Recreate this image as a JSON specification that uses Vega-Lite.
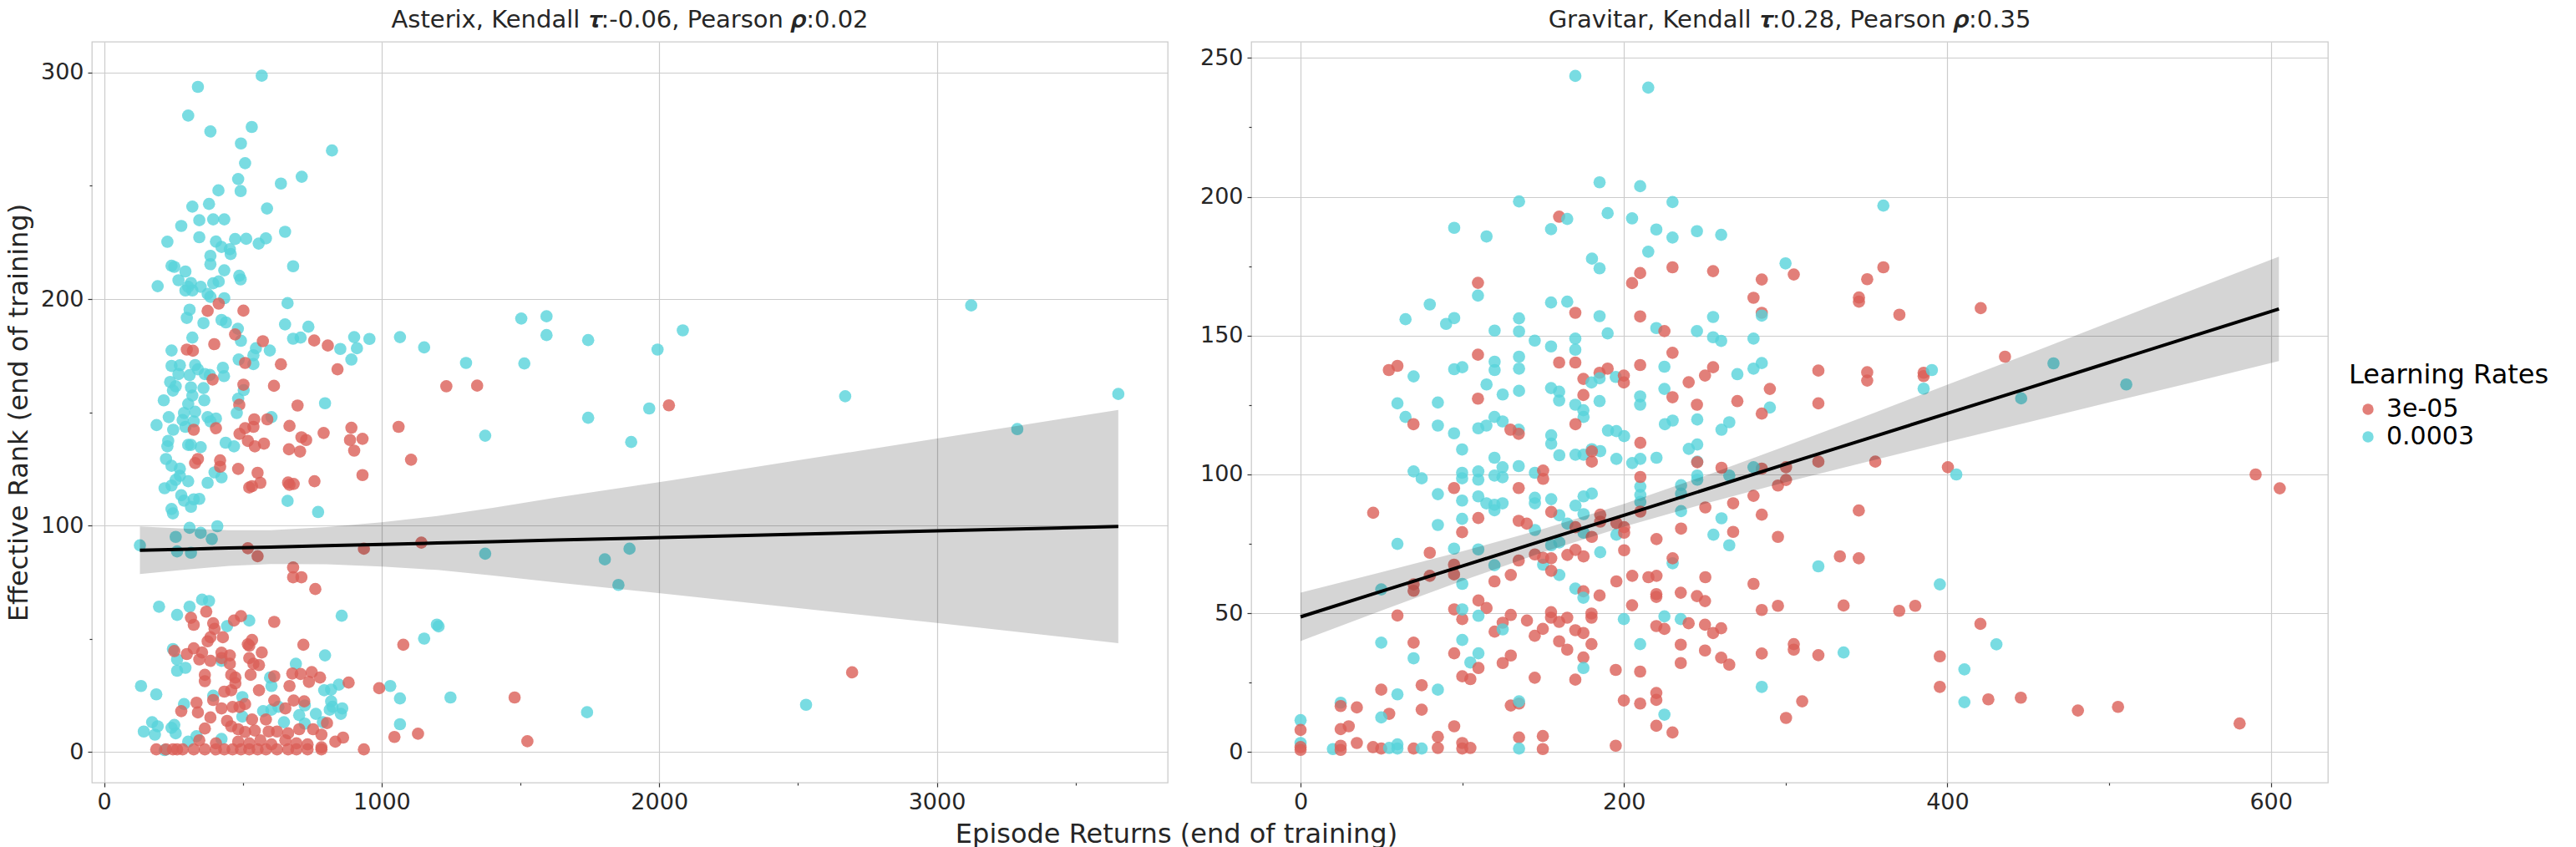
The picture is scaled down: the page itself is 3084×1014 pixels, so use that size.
{
  "$schema": "https://vega.github.io/schema/vega-lite/v6.json",
  "background": "white",
  "padding": {"left": 5, "top": 9, "right": 0, "bottom": 0},
  "bounds": "flush",
  "spacing": 100,
  "config": {
    "font": "DejaVu Sans",
    "view": {"stroke": "#cccccc", "strokeWidth": 1.3},
    "axis": {
      "labelFont": "DejaVu Sans", "labelFontSize": 27, "labelColor": "#262626",
      "labelPadding": 5, "labelOverlap": false, "labelFlush": false,
      "tickColor": "#333333", "tickWidth": 1.2,
      "gridColor": "#cccccc", "gridWidth": 1.2, "domain": false,
      "titleFont": "DejaVu Sans", "titleFontSize": 32, "titleFontWeight": "normal", "titleColor": "#262626"
    },
    "title": {"font": "DejaVu Sans", "fontSize": 29, "fontWeight": "normal", "color": "#262626", "offset": 11, "baseline": "alphabetic"},
    "legend": {
      "titleFont": "DejaVu Sans", "titleFontSize": 32, "titleFontWeight": "normal", "titleColor": "#000000", "titleLimit": 600,
      "labelFont": "DejaVu Sans", "labelFontSize": 30, "labelColor": "#000000", "labelLimit": 600,
      "symbolType": "circle", "symbolSize": 180, "symbolOpacity": 0.8, "symbolStrokeWidth": 0, "symbolOffset": 8,
      "labelOffset": 7, "rowPadding": 3, "titlePadding": 9, "padding": 0
    }
  },
  "datasets": {
    "asterix": [
      {"lr":"0.0003","ret":568,"rank":298.6},{"lr":"0.0003","ret":338,"rank":293.7},{"lr":"0.0003","ret":303,"rank":281},{"lr":"0.0003","ret":383,"rank":274},
      {"lr":"0.0003","ret":532,"rank":276},{"lr":"0.0003","ret":493,"rank":268.7},{"lr":"0.0003","ret":821,"rank":265.6},{"lr":"0.0003","ret":508,"rank":260},
      {"lr":"0.0003","ret":483,"rank":253},{"lr":"0.0003","ret":492,"rank":247.7},{"lr":"0.0003","ret":412,"rank":248},{"lr":"0.0003","ret":637,"rank":251},
      {"lr":"0.0003","ret":712,"rank":254},{"lr":"0.0003","ret":318,"rank":240.8},{"lr":"0.0003","ret":378,"rank":242},{"lr":"0.0003","ret":587,"rank":240},
      {"lr":"0.0003","ret":343,"rank":234.8},{"lr":"0.0003","ret":393,"rank":235.2},{"lr":"0.0003","ret":433,"rank":235.2},{"lr":"0.0003","ret":278,"rank":232.3},
      {"lr":"0.0003","ret":652,"rank":229.7},{"lr":"0.0003","ret":228,"rank":225.3},{"lr":"0.0003","ret":343,"rank":227.3},{"lr":"0.0003","ret":403,"rank":225.4},
      {"lr":"0.0003","ret":423,"rank":223},{"lr":"0.0003","ret":453,"rank":222},{"lr":"0.0003","ret":456,"rank":219.9},{"lr":"0.0003","ret":472,"rank":226.5},
      {"lr":"0.0003","ret":512,"rank":226.6},{"lr":"0.0003","ret":557,"rank":224.5},{"lr":"0.0003","ret":583,"rank":226.8},{"lr":"0.0003","ret":383,"rank":219.1},
      {"lr":"0.0003","ret":383,"rank":215.4},{"lr":"0.0003","ret":243,"rank":214.7},{"lr":"0.0003","ret":253,"rank":214.2},{"lr":"0.0003","ret":293,"rank":212.2},
      {"lr":"0.0003","ret":433,"rank":212.7},{"lr":"0.0003","ret":681,"rank":214.5},{"lr":"0.0003","ret":487,"rank":210.3},{"lr":"0.0003","ret":492,"rank":208.7},
      {"lr":"0.0003","ret":268,"rank":208.3},{"lr":"0.0003","ret":313,"rank":207.1},{"lr":"0.0003","ret":193,"rank":205.7},{"lr":"0.0003","ret":348,"rank":205.4},
      {"lr":"0.0003","ret":393,"rank":207},{"lr":"0.0003","ret":413,"rank":207.8},{"lr":"0.0003","ret":293,"rank":203.8},{"lr":"0.0003","ret":318,"rank":203.8},
      {"lr":"0.0003","ret":303,"rank":205.4},{"lr":"0.0003","ret":373,"rank":202.3},{"lr":"0.0003","ret":383,"rank":201},{"lr":"0.0003","ret":433,"rank":200.4},
      {"lr":"0.0003","ret":661,"rank":198.2},{"lr":"0.0003","ret":308,"rank":195.3},{"lr":"0.0003","ret":298,"rank":191.7},{"lr":"0.0003","ret":358,"rank":189.4},
      {"lr":"0.0003","ret":423,"rank":190.8},{"lr":"0.0003","ret":439,"rank":189.7},{"lr":"0.0003","ret":482,"rank":186.9},{"lr":"0.0003","ret":493,"rank":181.6},
      {"lr":"0.0003","ret":652,"rank":188.8},{"lr":"0.0003","ret":736,"rank":187.8},{"lr":"0.0003","ret":681,"rank":182.5},{"lr":"0.0003","ret":708,"rank":183},
      {"lr":"0.0003","ret":851,"rank":178},{"lr":"0.0003","ret":901,"rank":183.2},{"lr":"0.0003","ret":911,"rank":178.3},{"lr":"0.0003","ret":956,"rank":182.4},
      {"lr":"0.0003","ret":891,"rank":173.3},{"lr":"0.0003","ret":1066,"rank":183.2},{"lr":"0.0003","ret":1153,"rank":178.7},{"lr":"0.0003","ret":318,"rank":183},
      {"lr":"0.0003","ret":547,"rank":178.3},{"lr":"0.0003","ret":597,"rank":177.3},{"lr":"0.0003","ret":243,"rank":177.3},{"lr":"0.0003","ret":538,"rank":175.2},
      {"lr":"0.0003","ret":485,"rank":173.3},{"lr":"0.0003","ret":538,"rank":171.3},{"lr":"0.0003","ret":243,"rank":170.5},{"lr":"0.0003","ret":273,"rank":170.8},
      {"lr":"0.0003","ret":328,"rank":170.9},{"lr":"0.0003","ret":338,"rank":169},{"lr":"0.0003","ret":428,"rank":169.7},{"lr":"0.0003","ret":432,"rank":166},
      {"lr":"0.0003","ret":268,"rank":166.9},{"lr":"0.0003","ret":308,"rank":166.4},{"lr":"0.0003","ret":363,"rank":166.9},{"lr":"0.0003","ret":381,"rank":166.5},
      {"lr":"0.0003","ret":238,"rank":163.4},{"lr":"0.0003","ret":258,"rank":161.5},{"lr":"0.0003","ret":248,"rank":159.6},{"lr":"0.0003","ret":313,"rank":161},
      {"lr":"0.0003","ret":358,"rank":160.7},{"lr":"0.0003","ret":503,"rank":159.8},{"lr":"0.0003","ret":215,"rank":155.3},{"lr":"0.0003","ret":318,"rank":157.4},
      {"lr":"0.0003","ret":361,"rank":155.3},{"lr":"0.0003","ret":483,"rank":156},{"lr":"0.0003","ret":303,"rank":153.7},{"lr":"0.0003","ret":796,"rank":154},
      {"lr":"3e-05","ret":413,"rank":198},{"lr":"3e-05","ret":373,"rank":194.8},{"lr":"3e-05","ret":502,"rank":194.9},{"lr":"3e-05","ret":472,"rank":184.4},
      {"lr":"3e-05","ret":757,"rank":181.7},{"lr":"3e-05","ret":806,"rank":179.5},{"lr":"3e-05","ret":841,"rank":169},{"lr":"3e-05","ret":298,"rank":177.7},
      {"lr":"3e-05","ret":320,"rank":177.2},{"lr":"3e-05","ret":397,"rank":180.1},{"lr":"3e-05","ret":572,"rank":181.4},{"lr":"3e-05","ret":508,"rank":171.8},
      {"lr":"3e-05","ret":637,"rank":171.2},{"lr":"3e-05","ret":391,"rank":164.5},{"lr":"3e-05","ret":502,"rank":162.2},{"lr":"3e-05","ret":612,"rank":161.7},
      {"lr":"3e-05","ret":487,"rank":153.3},{"lr":"3e-05","ret":697,"rank":153},
      {"lr":"0.0003","ret":288,"rank":149.7},{"lr":"0.0003","ret":328,"rank":150.3},{"lr":"0.0003","ret":233,"rank":147.9},{"lr":"0.0003","ret":283,"rank":146.6},
      {"lr":"0.0003","ret":323,"rank":146},{"lr":"0.0003","ret":373,"rank":147.9},{"lr":"0.0003","ret":403,"rank":147.3},{"lr":"0.0003","ret":383,"rank":146},
      {"lr":"0.0003","ret":189,"rank":144.4},{"lr":"0.0003","ret":249,"rank":142.3},{"lr":"0.0003","ret":293,"rank":143.6},{"lr":"0.0003","ret":478,"rank":149.7},
      {"lr":"0.0003","ret":603,"rank":147.9},{"lr":"0.0003","ret":231,"rank":137.4},{"lr":"0.0003","ret":228,"rank":135},{"lr":"0.0003","ret":303,"rank":135.6},
      {"lr":"0.0003","ret":313,"rank":135.6},{"lr":"0.0003","ret":348,"rank":134.6},{"lr":"0.0003","ret":438,"rank":136.6},{"lr":"0.0003","ret":468,"rank":135},
      {"lr":"0.0003","ret":223,"rank":129.4},{"lr":"0.0003","ret":243,"rank":126.4},{"lr":"0.0003","ret":273,"rank":125.1},{"lr":"0.0003","ret":273,"rank":122},
      {"lr":"0.0003","ret":258,"rank":120.2},{"lr":"0.0003","ret":303,"rank":119.6},{"lr":"0.0003","ret":243,"rank":117.7},{"lr":"0.0003","ret":218,"rank":116.5},
      {"lr":"0.0003","ret":373,"rank":118.9},{"lr":"0.0003","ret":398,"rank":123.5},{"lr":"0.0003","ret":423,"rank":121.3},{"lr":"0.0003","ret":278,"rank":113.4},
      {"lr":"0.0003","ret":288,"rank":111},{"lr":"0.0003","ret":323,"rank":111.6},{"lr":"0.0003","ret":343,"rank":111.8},{"lr":"0.0003","ret":313,"rank":108.3},
      {"lr":"0.0003","ret":243,"rank":107.3},{"lr":"0.0003","ret":248,"rank":105.4},{"lr":"0.0003","ret":661,"rank":110.9},{"lr":"0.0003","ret":771,"rank":106},
      {"lr":"0.0003","ret":308,"rank":99},{"lr":"0.0003","ret":348,"rank":96.8},{"lr":"0.0003","ret":408,"rank":99.7},{"lr":"0.0003","ret":258,"rank":95},
      {"lr":"0.0003","ret":388,"rank":94.1},{"lr":"0.0003","ret":129,"rank":91.3},{"lr":"0.0003","ret":263,"rank":88.6},{"lr":"0.0003","ret":313,"rank":88},
      {"lr":"3e-05","ret":323,"rank":142.3},{"lr":"3e-05","ret":403,"rank":143},{"lr":"3e-05","ret":541,"rank":146.9},{"lr":"3e-05","ret":508,"rank":143},
      {"lr":"3e-05","ret":538,"rank":143.6},{"lr":"3e-05","ret":588,"rank":146.9},{"lr":"3e-05","ret":488,"rank":140.5},{"lr":"3e-05","ret":518,"rank":137.4},
      {"lr":"3e-05","ret":543,"rank":135},{"lr":"3e-05","ret":576,"rank":136.2},{"lr":"3e-05","ret":668,"rank":144},{"lr":"3e-05","ret":711,"rank":139},
      {"lr":"3e-05","ret":728,"rank":137.8},{"lr":"3e-05","ret":666,"rank":133.7},{"lr":"3e-05","ret":706,"rank":132.7},{"lr":"3e-05","ret":791,"rank":140.9},
      {"lr":"3e-05","ret":891,"rank":143.2},{"lr":"3e-05","ret":886,"rank":137.8},{"lr":"3e-05","ret":931,"rank":138.3},{"lr":"3e-05","ret":901,"rank":133.1},
      {"lr":"3e-05","ret":1061,"rank":143.6},{"lr":"3e-05","ret":1106,"rank":129.1},{"lr":"3e-05","ret":931,"rank":122.3},{"lr":"3e-05","ret":338,"rank":129.4},
      {"lr":"3e-05","ret":328,"rank":127.6},{"lr":"3e-05","ret":418,"rank":128.8},{"lr":"3e-05","ret":418,"rank":126},{"lr":"3e-05","ret":483,"rank":125},
      {"lr":"3e-05","ret":553,"rank":123.3},{"lr":"3e-05","ret":563,"rank":118.9},{"lr":"3e-05","ret":523,"rank":116.8},{"lr":"3e-05","ret":533,"rank":117.4},
      {"lr":"3e-05","ret":663,"rank":119},{"lr":"3e-05","ret":683,"rank":118.4},{"lr":"3e-05","ret":668,"rank":118},{"lr":"3e-05","ret":758,"rank":119.6},
      {"lr":"3e-05","ret":518,"rank":90},{"lr":"3e-05","ret":553,"rank":86.5},{"lr":"3e-05","ret":936,"rank":89.8},{"lr":"3e-05","ret":1143,"rank":92.5},
      {"lr":"3e-05","ret":681,"rank":81.5},{"lr":"3e-05","ret":681,"rank":77.2},{"lr":"3e-05","ret":711,"rank":77.2},{"lr":"3e-05","ret":761,"rank":72},
      {"lr":"0.0003","ret":198,"rank":64.2},{"lr":"0.0003","ret":263,"rank":60.6},{"lr":"0.0003","ret":308,"rank":64.2},{"lr":"0.0003","ret":353,"rank":67.3},
      {"lr":"0.0003","ret":378,"rank":66.7},{"lr":"0.0003","ret":443,"rank":55.6},{"lr":"0.0003","ret":523,"rank":58.1},{"lr":"0.0003","ret":856,"rank":60.2},
      {"lr":"0.0003","ret":1153,"rank":50.1},{"lr":"0.0003","ret":248,"rank":45.5},{"lr":"0.0003","ret":263,"rank":40.9},{"lr":"0.0003","ret":263,"rank":35.9},
      {"lr":"0.0003","ret":293,"rank":37.2},{"lr":"0.0003","ret":423,"rank":40.3},{"lr":"0.0003","ret":691,"rank":39},{"lr":"0.0003","ret":796,"rank":42.7},
      {"lr":"0.0003","ret":598,"rank":32.9},{"lr":"0.0003","ret":603,"rank":29.2},{"lr":"0.0003","ret":133,"rank":29.2},{"lr":"0.0003","ret":188,"rank":25.5},
      {"lr":"0.0003","ret":393,"rank":24.9},{"lr":"0.0003","ret":498,"rank":24.3},{"lr":"0.0003","ret":288,"rank":21.2},{"lr":"0.0003","ret":793,"rank":27.3},
      {"lr":"0.0003","ret":818,"rank":27.6},{"lr":"0.0003","ret":846,"rank":29.8},{"lr":"0.0003","ret":1031,"rank":29.2},{"lr":"0.0003","ret":1066,"rank":23.7},
      {"lr":"0.0003","ret":818,"rank":22.4},{"lr":"0.0003","ret":823,"rank":20},{"lr":"0.0003","ret":858,"rank":19.3},{"lr":"0.0003","ret":853,"rank":16.9},
      {"lr":"0.0003","ret":813,"rank":18.7},{"lr":"0.0003","ret":573,"rank":18.1},{"lr":"0.0003","ret":603,"rank":18.7},{"lr":"0.0003","ret":628,"rank":20},
      {"lr":"0.0003","ret":703,"rank":16.3},{"lr":"0.0003","ret":723,"rank":20.6},{"lr":"0.0003","ret":763,"rank":16.9},{"lr":"0.0003","ret":788,"rank":13.2},
      {"lr":"0.0003","ret":648,"rank":13.2},{"lr":"0.0003","ret":498,"rank":15.7},{"lr":"0.0003","ret":1066,"rank":12.3},{"lr":"0.0003","ret":173,"rank":13.2},
      {"lr":"0.0003","ret":193,"rank":11.4},{"lr":"0.0003","ret":143,"rank":9.1},{"lr":"0.0003","ret":183,"rank":7.7},{"lr":"0.0003","ret":243,"rank":10.7},
      {"lr":"0.0003","ret":258,"rank":8.3},{"lr":"0.0003","ret":253,"rank":12},{"lr":"0.0003","ret":303,"rank":4.6},{"lr":"0.0003","ret":333,"rank":7},
      {"lr":"0.0003","ret":218,"rank":0.9},{"lr":"0.0003","ret":423,"rank":5.8},{"lr":"0.0003","ret":723,"rank":12.6},
      {"lr":"3e-05","ret":368,"rank":62},{"lr":"3e-05","ret":313,"rank":59.3},{"lr":"3e-05","ret":323,"rank":56.2},{"lr":"3e-05","ret":393,"rank":56.9},
      {"lr":"3e-05","ret":398,"rank":54.4},{"lr":"3e-05","ret":468,"rank":58.1},{"lr":"3e-05","ret":493,"rank":60},{"lr":"3e-05","ret":613,"rank":57.5},
      {"lr":"3e-05","ret":383,"rank":50.7},{"lr":"3e-05","ret":428,"rank":50.7},{"lr":"3e-05","ret":373,"rank":48.9},{"lr":"3e-05","ret":518,"rank":47.6},
      {"lr":"3e-05","ret":533,"rank":49.5},{"lr":"3e-05","ret":523,"rank":47},{"lr":"3e-05","ret":718,"rank":47.4},{"lr":"3e-05","ret":253,"rank":44.6},
      {"lr":"3e-05","ret":298,"rank":43.3},{"lr":"3e-05","ret":323,"rank":45.8},{"lr":"3e-05","ret":353,"rank":44},{"lr":"3e-05","ret":343,"rank":40.9},
      {"lr":"3e-05","ret":383,"rank":40.3},{"lr":"3e-05","ret":423,"rank":43.9},{"lr":"3e-05","ret":453,"rank":42.7},{"lr":"3e-05","ret":423,"rank":41.5},
      {"lr":"3e-05","ret":453,"rank":39},{"lr":"3e-05","ret":568,"rank":44},{"lr":"3e-05","ret":523,"rank":41.5},{"lr":"3e-05","ret":538,"rank":39},
      {"lr":"3e-05","ret":558,"rank":38.4},{"lr":"3e-05","ret":363,"rank":34.1},{"lr":"3e-05","ret":363,"rank":31.3},{"lr":"3e-05","ret":458,"rank":34.1},
      {"lr":"3e-05","ret":473,"rank":32.9},{"lr":"3e-05","ret":473,"rank":30.4},{"lr":"3e-05","ret":528,"rank":34.1},{"lr":"3e-05","ret":613,"rank":33.5},
      {"lr":"3e-05","ret":678,"rank":34.7},{"lr":"3e-05","ret":708,"rank":34.5},{"lr":"3e-05","ret":748,"rank":35.3},{"lr":"3e-05","ret":738,"rank":31},
      {"lr":"3e-05","ret":778,"rank":32.9},{"lr":"3e-05","ret":668,"rank":29.2},{"lr":"3e-05","ret":558,"rank":27.3},{"lr":"3e-05","ret":433,"rank":26.7},
      {"lr":"3e-05","ret":458,"rank":27.3},{"lr":"3e-05","ret":881,"rank":30.7},{"lr":"3e-05","ret":991,"rank":28.2},{"lr":"3e-05","ret":333,"rank":21.8},
      {"lr":"3e-05","ret":338,"rank":17.5},{"lr":"3e-05","ret":278,"rank":18.1},{"lr":"3e-05","ret":383,"rank":15.3},{"lr":"3e-05","ret":393,"rank":23},
      {"lr":"3e-05","ret":423,"rank":19.3},{"lr":"3e-05","ret":463,"rank":19.9},{"lr":"3e-05","ret":488,"rank":19.9},{"lr":"3e-05","ret":508,"rank":21.2},
      {"lr":"3e-05","ret":533,"rank":14.4},{"lr":"3e-05","ret":613,"rank":22.8},{"lr":"3e-05","ret":653,"rank":19.3},{"lr":"3e-05","ret":683,"rank":22.8},
      {"lr":"3e-05","ret":721,"rank":22.4},{"lr":"3e-05","ret":363,"rank":10.4},{"lr":"3e-05","ret":443,"rank":13.8},{"lr":"3e-05","ret":458,"rank":11.4},
      {"lr":"3e-05","ret":483,"rank":10.1},{"lr":"3e-05","ret":508,"rank":8.9},{"lr":"3e-05","ret":543,"rank":9.5},{"lr":"3e-05","ret":583,"rank":14.4},
      {"lr":"3e-05","ret":593,"rank":9.1},{"lr":"3e-05","ret":623,"rank":9.1},{"lr":"3e-05","ret":663,"rank":8.3},{"lr":"3e-05","ret":703,"rank":10.1},
      {"lr":"3e-05","ret":753,"rank":10.1},{"lr":"3e-05","ret":803,"rank":12.8},{"lr":"3e-05","ret":783,"rank":7.7},{"lr":"3e-05","ret":1131,"rank":8.1},
      {"lr":"3e-05","ret":1046,"rank":6.7},{"lr":"3e-05","ret":861,"rank":6.4},{"lr":"3e-05","ret":833,"rank":4.6},{"lr":"3e-05","ret":343,"rank":5.2},
      {"lr":"3e-05","ret":403,"rank":3.9},{"lr":"3e-05","ret":483,"rank":4.6},{"lr":"3e-05","ret":523,"rank":3.9},{"lr":"3e-05","ret":563,"rank":5.2},
      {"lr":"3e-05","ret":603,"rank":3.4},{"lr":"3e-05","ret":653,"rank":5.2},{"lr":"3e-05","ret":693,"rank":3.9},{"lr":"3e-05","ret":733,"rank":3.4},
      {"lr":"3e-05","ret":783,"rank":2.1},{"lr":"3e-05","ret":936,"rank":1.2},
      {"lr":"3e-05","ret":188,"rank":1.2},{"lr":"3e-05","ret":223,"rank":1.2},{"lr":"3e-05","ret":248,"rank":1.2},{"lr":"3e-05","ret":263,"rank":1.2},
      {"lr":"3e-05","ret":283,"rank":1.2},{"lr":"3e-05","ret":323,"rank":1.2},{"lr":"3e-05","ret":363,"rank":1.2},{"lr":"3e-05","ret":403,"rank":1.2},
      {"lr":"3e-05","ret":433,"rank":1.2},{"lr":"3e-05","ret":463,"rank":1.2},{"lr":"3e-05","ret":493,"rank":1.2},{"lr":"3e-05","ret":523,"rank":1.2},
      {"lr":"3e-05","ret":553,"rank":1.2},{"lr":"3e-05","ret":583,"rank":1.2},{"lr":"3e-05","ret":623,"rank":1.2},{"lr":"3e-05","ret":663,"rank":1.2},
      {"lr":"3e-05","ret":693,"rank":1.2},{"lr":"3e-05","ret":733,"rank":1.2},{"lr":"3e-05","ret":783,"rank":1.2},{"lr":"3e-05","ret":1078,"rank":47.4},
      {"lr":"0.0003","ret":1503,"rank":191.4},{"lr":"0.0003","ret":1594,"rank":192.4},{"lr":"0.0003","ret":1594,"rank":184.1},{"lr":"0.0003","ret":1744,"rank":181.9},
      {"lr":"0.0003","ret":1994,"rank":177.7},{"lr":"0.0003","ret":1304,"rank":171.8},{"lr":"0.0003","ret":1514,"rank":171.6},{"lr":"0.0003","ret":1964,"rank":151.7},
      {"lr":"0.0003","ret":1744,"rank":147.6},{"lr":"0.0003","ret":2085,"rank":186.2},{"lr":"0.0003","ret":3124,"rank":197.2},{"lr":"0.0003","ret":2670,"rank":157.1},
      {"lr":"0.0003","ret":3654,"rank":158.1},{"lr":"0.0003","ret":3290,"rank":142.6},{"lr":"0.0003","ret":2529,"rank":20.9},{"lr":"0.0003","ret":1373,"rank":139.7},
      {"lr":"0.0003","ret":1899,"rank":136.9},{"lr":"0.0003","ret":1373,"rank":87.6},{"lr":"0.0003","ret":1804,"rank":85.1},{"lr":"0.0003","ret":1893,"rank":89.8},
      {"lr":"0.0003","ret":1853,"rank":73.8},{"lr":"0.0003","ret":1199,"rank":56.3},{"lr":"0.0003","ret":1205,"rank":55.5},{"lr":"0.0003","ret":1248,"rank":24.1},
      {"lr":"0.0003","ret":1740,"rank":17.6},
      {"lr":"3e-05","ret":1233,"rank":161.5},{"lr":"3e-05","ret":1344,"rank":161.8},{"lr":"3e-05","ret":2035,"rank":153.1},{"lr":"3e-05","ret":2695,"rank":35.2},
      {"lr":"3e-05","ret":1479,"rank":24.1},{"lr":"3e-05","ret":1525,"rank":4.8}
    ],
    "asterix_fit": [
      {"ret":129,"lo":78.6,"hi":99.6,"fit":89.1},{"ret":300,"lo":80.6,"hi":98.6,"fit":89.6},
      {"ret":450,"lo":82.2,"hi":98.0,"fit":90.1},{"ret":600,"lo":83.0,"hi":98.0,"fit":90.5},
      {"ret":800,"lo":82.9,"hi":99.3,"fit":91.1},{"ret":1000,"lo":81.9,"hi":101.5,"fit":91.7},
      {"ret":1200,"lo":80.4,"hi":104.2,"fit":92.3},{"ret":1400,"lo":78.0,"hi":107.8,"fit":92.9},
      {"ret":1627,"lo":74.9,"hi":112.3,"fit":93.6},{"ret":2039,"lo":69.7,"hi":119.9,"fit":94.8},
      {"ret":2500,"lo":63.6,"hi":128.8,"fit":96.2},{"ret":3000,"lo":57.0,"hi":138.4,"fit":97.7},
      {"ret":3654,"lo":48.1,"hi":151.1,"fit":99.6}
    ],
    "gravitar": [
      {"lr":"0.0003","ret":169.9,"rank":243.5},{"lr":"0.0003","ret":215,"rank":239.3},{"lr":"0.0003","ret":184.9,"rank":205.2},{"lr":"0.0003","ret":210,"rank":203.8},
      {"lr":"0.0003","ret":135.1,"rank":198.3},{"lr":"0.0003","ret":230,"rank":198.1},{"lr":"3e-05","ret":159.9,"rank":192.8},{"lr":"0.0003","ret":164.9,"rank":192},
      {"lr":"0.0003","ret":189.9,"rank":194.1},{"lr":"0.0003","ret":205,"rank":192.2},{"lr":"0.0003","ret":95,"rank":188.8},{"lr":"0.0003","ret":115,"rank":185.7},
      {"lr":"0.0003","ret":154.9,"rank":188.3},{"lr":"0.0003","ret":220,"rank":188.2},{"lr":"0.0003","ret":230,"rank":185.3},{"lr":"0.0003","ret":245.1,"rank":187.6},
      {"lr":"0.0003","ret":260.1,"rank":186.3},{"lr":"0.0003","ret":215,"rank":180.2},{"lr":"0.0003","ret":180.2,"rank":177.7},{"lr":"0.0003","ret":184.9,"rank":174.2},
      {"lr":"3e-05","ret":230,"rank":174.6},{"lr":"3e-05","ret":210,"rank":172.5},{"lr":"3e-05","ret":205,"rank":168.9},{"lr":"3e-05","ret":255.1,"rank":173.2},
      {"lr":"3e-05","ret":285.2,"rank":170.2},{"lr":"0.0003","ret":299.9,"rank":176},{"lr":"3e-05","ret":305,"rank":172},{"lr":"3e-05","ret":109.7,"rank":169},
      {"lr":"0.0003","ret":109.7,"rank":164.4},{"lr":"3e-05","ret":280.1,"rank":163.6},{"lr":"0.0003","ret":79.9,"rank":161.2},{"lr":"0.0003","ret":154.9,"rank":161.9},
      {"lr":"0.0003","ret":164.9,"rank":162.2},{"lr":"0.0003","ret":64.9,"rank":155.9},{"lr":"0.0003","ret":90,"rank":154.2},{"lr":"0.0003","ret":95,"rank":156.3},
      {"lr":"3e-05","ret":169.9,"rank":158.2},{"lr":"0.0003","ret":184.9,"rank":157},{"lr":"3e-05","ret":210,"rank":156.9},{"lr":"0.0003","ret":255.1,"rank":156.7},
      {"lr":"3e-05","ret":285.2,"rank":158.2},{"lr":"0.0003","ret":285.2,"rank":157.2},{"lr":"0.0003","ret":135.1,"rank":156.2},{"lr":"0.0003","ret":120,"rank":151.8},
      {"lr":"0.0003","ret":135.1,"rank":151.5},{"lr":"0.0003","ret":144.8,"rank":148.2},{"lr":"0.0003","ret":154.9,"rank":146.1},{"lr":"0.0003","ret":169.9,"rank":148.9},
      {"lr":"0.0003","ret":169.9,"rank":144.9},{"lr":"0.0003","ret":189.9,"rank":150.8},{"lr":"0.0003","ret":220,"rank":152.7},{"lr":"3e-05","ret":225,"rank":151.6},
      {"lr":"0.0003","ret":245.1,"rank":151.6},{"lr":"0.0003","ret":255.1,"rank":149.4},{"lr":"0.0003","ret":260.1,"rank":148.1},{"lr":"0.0003","ret":280.1,"rank":148.9},
      {"lr":"3e-05","ret":109.7,"rank":143.1},{"lr":"3e-05","ret":159.9,"rank":140.3},{"lr":"3e-05","ret":169.9,"rank":140.3},{"lr":"3e-05","ret":230,"rank":143.8},
      {"lr":"0.0003","ret":120,"rank":140.6},{"lr":"0.0003","ret":120,"rank":137.6},{"lr":"0.0003","ret":135.1,"rank":142.4},{"lr":"0.0003","ret":135.1,"rank":138.1},
      {"lr":"3e-05","ret":54.6,"rank":137.6},{"lr":"3e-05","ret":59.9,"rank":139.1},{"lr":"0.0003","ret":69.9,"rank":135.3},{"lr":"0.0003","ret":95,"rank":137.9},
      {"lr":"0.0003","ret":100,"rank":138.6},{"lr":"3e-05","ret":189.9,"rank":138.1},{"lr":"3e-05","ret":184.9,"rank":136.6},{"lr":"3e-05","ret":174.9,"rank":134.4},
      {"lr":"0.0003","ret":179.9,"rank":133.1},{"lr":"0.0003","ret":184.9,"rank":134.6},{"lr":"0.0003","ret":194.9,"rank":135.1},{"lr":"3e-05","ret":199.9,"rank":135.6},
      {"lr":"3e-05","ret":199.9,"rank":133.1},{"lr":"3e-05","ret":210,"rank":139.4},{"lr":"0.0003","ret":225,"rank":138.8},{"lr":"3e-05","ret":240,"rank":133.2},
      {"lr":"3e-05","ret":250.1,"rank":135.6},{"lr":"3e-05","ret":255.1,"rank":138.6},{"lr":"0.0003","ret":270.1,"rank":136.1},{"lr":"0.0003","ret":280.1,"rank":138.1},
      {"lr":"0.0003","ret":285.2,"rank":140.1},{"lr":"3e-05","ret":320.2,"rank":137.4},{"lr":"3e-05","ret":290.2,"rank":130.8},{"lr":"0.0003","ret":115,"rank":132.4},
      {"lr":"0.0003","ret":125,"rank":128.8},{"lr":"0.0003","ret":135.1,"rank":130.1},{"lr":"0.0003","ret":154.9,"rank":131.1},{"lr":"0.0003","ret":159.9,"rank":129.8},
      {"lr":"3e-05","ret":174.9,"rank":128.6},{"lr":"0.0003","ret":159.9,"rank":126.6},{"lr":"0.0003","ret":59.9,"rank":125.6},{"lr":"0.0003","ret":84.9,"rank":125.9},
      {"lr":"3e-05","ret":109.7,"rank":127.3},{"lr":"0.0003","ret":169.9,"rank":125.1},{"lr":"0.0003","ret":174.9,"rank":123.1},{"lr":"0.0003","ret":184.9,"rank":126.4},
      {"lr":"0.0003","ret":210,"rank":128.1},{"lr":"0.0003","ret":210,"rank":125.1},{"lr":"0.0003","ret":225,"rank":130.8},{"lr":"3e-05","ret":230,"rank":127.8},
      {"lr":"3e-05","ret":245.1,"rank":125.1},{"lr":"3e-05","ret":270.1,"rank":126.4},{"lr":"3e-05","ret":320.2,"rank":125.6},{"lr":"0.0003","ret":290.2,"rank":124.1},
      {"lr":"3e-05","ret":285.2,"rank":121.9},
      {"lr":"0.0003","ret":360.4,"rank":196.8},{"lr":"3e-05","ret":360.4,"rank":174.6},{"lr":"3e-05","ret":350.4,"rank":170.3},{"lr":"3e-05","ret":345.3,"rank":163.7},
      {"lr":"3e-05","ret":345.3,"rank":162.2},{"lr":"3e-05","ret":370.3,"rank":157.5},{"lr":"3e-05","ret":420.6,"rank":159.9},{"lr":"3e-05","ret":350.4,"rank":136.8},
      {"lr":"3e-05","ret":350.4,"rank":133.8},{"lr":"3e-05","ret":385.3,"rank":136.6},{"lr":"3e-05","ret":385.3,"rank":135.4},{"lr":"0.0003","ret":390.4,"rank":137.6},
      {"lr":"0.0003","ret":385.3,"rank":130.9},{"lr":"3e-05","ret":435.6,"rank":142.4},{"lr":"0.0003","ret":465.6,"rank":140},{"lr":"0.0003","ret":445.6,"rank":127.4},
      {"lr":"0.0003","ret":510.6,"rank":132.4},
      {"lr":"3e-05","ret":355.4,"rank":104.6},{"lr":"3e-05","ret":400.3,"rank":102.6},{"lr":"0.0003","ret":405.5,"rank":100},{"lr":"3e-05","ret":590.6,"rank":100},
      {"lr":"3e-05","ret":605.5,"rank":95},{"lr":"3e-05","ret":345.2,"rank":87},{"lr":"3e-05","ret":333.5,"rank":70.5},{"lr":"3e-05","ret":345.2,"rank":69.8},
      {"lr":"0.0003","ret":395.3,"rank":60.4},{"lr":"3e-05","ret":335.8,"rank":52.8},{"lr":"3e-05","ret":370.2,"rank":50.9},{"lr":"3e-05","ret":380.1,"rank":52.7},
      {"lr":"3e-05","ret":420.4,"rank":46.2},{"lr":"0.0003","ret":430.3,"rank":38.8},{"lr":"0.0003","ret":335.8,"rank":35.9},{"lr":"3e-05","ret":395.3,"rank":34.5},
      {"lr":"0.0003","ret":410.5,"rank":29.8},{"lr":"3e-05","ret":395.3,"rank":23.5},{"lr":"0.0003","ret":410.5,"rank":18},{"lr":"3e-05","ret":425.3,"rank":19},
      {"lr":"3e-05","ret":445.4,"rank":19.6},{"lr":"3e-05","ret":480.7,"rank":15},{"lr":"3e-05","ret":505.5,"rank":16.3},{"lr":"3e-05","ret":580.7,"rank":10.3},
      {"lr":"0.0003","ret":64.9,"rank":120.7},{"lr":"0.0003","ret":84.9,"rank":117.6},{"lr":"0.0003","ret":94.9,"rank":114.8},{"lr":"0.0003","ret":109.9,"rank":116.6},
      {"lr":"0.0003","ret":114.9,"rank":117.6},{"lr":"0.0003","ret":119.9,"rank":120.7},{"lr":"0.0003","ret":124.9,"rank":119.1},{"lr":"0.0003","ret":134.9,"rank":116.1},
      {"lr":"0.0003","ret":155,"rank":114.1},{"lr":"0.0003","ret":155,"rank":111.1},{"lr":"0.0003","ret":175,"rank":120.7},{"lr":"0.0003","ret":190.1,"rank":115.8},
      {"lr":"0.0003","ret":195.3,"rank":115.6},{"lr":"0.0003","ret":200.1,"rank":113.8},{"lr":"0.0003","ret":225.3,"rank":118.1},{"lr":"0.0003","ret":230.1,"rank":119.4},
      {"lr":"0.0003","ret":245.3,"rank":119.8},{"lr":"0.0003","ret":260.3,"rank":116.1},{"lr":"0.0003","ret":265.1,"rank":118.8},{"lr":"0.0003","ret":99.9,"rank":109},
      {"lr":"0.0003","ret":119.9,"rank":106},{"lr":"0.0003","ret":124.9,"rank":102.6},{"lr":"0.0003","ret":134.9,"rank":103},{"lr":"0.0003","ret":160,"rank":106.9},
      {"lr":"0.0003","ret":170,"rank":107.1},{"lr":"0.0003","ret":175,"rank":107.1},{"lr":"0.0003","ret":180.1,"rank":109.1},{"lr":"0.0003","ret":185.3,"rank":108.4},
      {"lr":"0.0003","ret":195.3,"rank":105.6},{"lr":"0.0003","ret":205.1,"rank":104.1},{"lr":"0.0003","ret":210.1,"rank":105.6},{"lr":"0.0003","ret":220.1,"rank":106},
      {"lr":"0.0003","ret":240.1,"rank":109.2},{"lr":"0.0003","ret":245.3,"rank":110.8},{"lr":"0.0003","ret":245.3,"rank":104.6},{"lr":"0.0003","ret":69.9,"rank":101.1},
      {"lr":"0.0003","ret":74.9,"rank":98.6},{"lr":"0.0003","ret":99.9,"rank":100.6},{"lr":"0.0003","ret":99.9,"rank":98.6},{"lr":"0.0003","ret":109.9,"rank":101.1},
      {"lr":"0.0003","ret":109.9,"rank":98.1},{"lr":"0.0003","ret":119.9,"rank":99.6},{"lr":"0.0003","ret":124.9,"rank":99},{"lr":"0.0003","ret":144.9,"rank":100.6},
      {"lr":"0.0003","ret":210.1,"rank":95.6},{"lr":"0.0003","ret":210.1,"rank":92.6},{"lr":"0.0003","ret":210.1,"rank":90.1},{"lr":"0.0003","ret":245.3,"rank":99.6},
      {"lr":"0.0003","ret":245.3,"rank":98.1},{"lr":"0.0003","ret":265.1,"rank":99.6},{"lr":"0.0003","ret":235.3,"rank":96.1},{"lr":"0.0003","ret":235.3,"rank":93.1},
      {"lr":"0.0003","ret":235.3,"rank":86.8},{"lr":"0.0003","ret":260.3,"rank":84.2},{"lr":"0.0003","ret":255.3,"rank":78.3},{"lr":"0.0003","ret":265.1,"rank":74.5},
      {"lr":"0.0003","ret":230.1,"rank":68},{"lr":"0.0003","ret":84.9,"rank":92.9},{"lr":"0.0003","ret":109.9,"rank":92.1},{"lr":"0.0003","ret":99.9,"rank":90.6},
      {"lr":"0.0003","ret":114.9,"rank":89.6},{"lr":"0.0003","ret":119.9,"rank":89.1},{"lr":"0.0003","ret":119.9,"rank":87.1},{"lr":"0.0003","ret":124.9,"rank":89.6},
      {"lr":"0.0003","ret":144.9,"rank":91.6},{"lr":"0.0003","ret":144.9,"rank":89.6},{"lr":"0.0003","ret":155,"rank":91.1},{"lr":"0.0003","ret":175,"rank":92.1},
      {"lr":"0.0003","ret":180.1,"rank":93.1},{"lr":"0.0003","ret":170,"rank":88.8},{"lr":"0.0003","ret":160,"rank":85.3},{"lr":"0.0003","ret":175,"rank":85.7},
      {"lr":"0.0003","ret":99.9,"rank":84},{"lr":"0.0003","ret":84.9,"rank":81.8},{"lr":"0.0003","ret":144.9,"rank":80},{"lr":"0.0003","ret":165,"rank":82.3},
      {"lr":"0.0003","ret":175,"rank":79},{"lr":"0.0003","ret":195.3,"rank":78.3},{"lr":"0.0003","ret":59.9,"rank":75},{"lr":"0.0003","ret":160,"rank":75.5},
      {"lr":"0.0003","ret":155,"rank":74.5},{"lr":"0.0003","ret":94.9,"rank":73.3},{"lr":"0.0003","ret":109.9,"rank":73},{"lr":"0.0003","ret":185.3,"rank":72},
      {"lr":"0.0003","ret":119.9,"rank":67.3},{"lr":"0.0003","ret":150,"rank":67.5},{"lr":"0.0003","ret":160,"rank":63.8},
      {"lr":"3e-05","ret":69.8,"rank":118.1},{"lr":"3e-05","ret":129.8,"rank":116.1},{"lr":"3e-05","ret":134.9,"rank":114.6},{"lr":"3e-05","ret":170,"rank":118.1},
      {"lr":"3e-05","ret":210.1,"rank":111.4},{"lr":"3e-05","ret":180.1,"rank":108.3},{"lr":"3e-05","ret":180.1,"rank":104.6},{"lr":"3e-05","ret":245.3,"rank":104.4},
      {"lr":"3e-05","ret":150,"rank":101.4},{"lr":"3e-05","ret":150,"rank":98.4},{"lr":"3e-05","ret":210.1,"rank":99.1},{"lr":"3e-05","ret":210.1,"rank":86.6},
      {"lr":"3e-05","ret":260.3,"rank":102.4},{"lr":"3e-05","ret":267.5,"rank":89.6},{"lr":"3e-05","ret":250.3,"rank":88.1},{"lr":"3e-05","ret":235.3,"rank":80.5},
      {"lr":"3e-05","ret":267.5,"rank":79.3},{"lr":"3e-05","ret":220.1,"rank":76.7},{"lr":"3e-05","ret":230.1,"rank":69.8},{"lr":"3e-05","ret":250.3,"rank":63},
      {"lr":"3e-05","ret":220.1,"rank":63.5},{"lr":"3e-05","ret":215.1,"rank":63},{"lr":"3e-05","ret":205.1,"rank":63.5},{"lr":"3e-05","ret":195.3,"rank":61.5},
      {"lr":"3e-05","ret":94.9,"rank":95.1},{"lr":"3e-05","ret":134.9,"rank":95.1},{"lr":"3e-05","ret":44.9,"rank":86.2},{"lr":"3e-05","ret":155,"rank":86.5},
      {"lr":"3e-05","ret":185.3,"rank":85.5},{"lr":"3e-05","ret":109.9,"rank":84.3},{"lr":"3e-05","ret":134.9,"rank":83.3},{"lr":"3e-05","ret":139.9,"rank":82.3},
      {"lr":"3e-05","ret":170,"rank":81},{"lr":"3e-05","ret":185.3,"rank":83},{"lr":"3e-05","ret":195.3,"rank":82.5},{"lr":"3e-05","ret":200.1,"rank":81},
      {"lr":"3e-05","ret":200.1,"rank":79},{"lr":"3e-05","ret":99.9,"rank":79.2},{"lr":"3e-05","ret":180.1,"rank":77.5},{"lr":"3e-05","ret":200.1,"rank":72.7},
      {"lr":"3e-05","ret":79.9,"rank":71.8},{"lr":"3e-05","ret":170,"rank":72.8},{"lr":"3e-05","ret":165,"rank":71},{"lr":"3e-05","ret":175,"rank":70.5},
      {"lr":"3e-05","ret":144.9,"rank":71.2},{"lr":"3e-05","ret":150,"rank":70},{"lr":"3e-05","ret":155,"rank":69.8},{"lr":"3e-05","ret":94.9,"rank":67.5},
      {"lr":"3e-05","ret":94.9,"rank":64},{"lr":"3e-05","ret":134.9,"rank":69},{"lr":"3e-05","ret":155,"rank":65.3},{"lr":"3e-05","ret":79.9,"rank":63.5},
      {"lr":"3e-05","ret":130,"rank":63.8},{"lr":"3e-05","ret":119.9,"rank":61.5},
      {"lr":"3e-05","ret":285.2,"rank":102.1},{"lr":"3e-05","ret":300.2,"rank":102.6},{"lr":"3e-05","ret":300.2,"rank":98},{"lr":"3e-05","ret":295.2,"rank":96},
      {"lr":"3e-05","ret":320.2,"rank":104.6},{"lr":"0.0003","ret":280.1,"rank":102.6},{"lr":"3e-05","ret":280.1,"rank":92.3},{"lr":"3e-05","ret":285.2,"rank":85.5},
      {"lr":"3e-05","ret":295.2,"rank":77.5},{"lr":"0.0003","ret":320.2,"rank":66.9},{"lr":"3e-05","ret":280.1,"rank":60.6},{"lr":"3e-05","ret":285.2,"rank":51.2},
      {"lr":"3e-05","ret":295.2,"rank":52.7},{"lr":"3e-05","ret":305,"rank":38.9},{"lr":"3e-05","ret":305,"rank":36.9},{"lr":"3e-05","ret":285.2,"rank":35.5},
      {"lr":"3e-05","ret":320.2,"rank":34.9},{"lr":"0.0003","ret":285.2,"rank":23.5},{"lr":"3e-05","ret":310.2,"rank":18.3},{"lr":"3e-05","ret":300.2,"rank":12.3},
      {"lr":"3e-05","ret":69.9,"rank":60.4},{"lr":"3e-05","ret":69.9,"rank":58.1},{"lr":"0.0003","ret":49.9,"rank":58.6},{"lr":"0.0003","ret":100,"rank":60.6},
      {"lr":"0.0003","ret":169.9,"rank":58.9},{"lr":"3e-05","ret":174.9,"rank":57.9},{"lr":"0.0003","ret":174.9,"rank":55.6},{"lr":"3e-05","ret":184.9,"rank":56.4},
      {"lr":"3e-05","ret":220,"rank":56.9},{"lr":"3e-05","ret":220,"rank":55.9},{"lr":"3e-05","ret":235.1,"rank":57.4},
      {"lr":"3e-05","ret":245.1,"rank":56.2},{"lr":"3e-05","ret":250.1,"rank":54.4},{"lr":"3e-05","ret":205,"rank":52.9},{"lr":"0.0003","ret":199.9,"rank":47.9},
      {"lr":"3e-05","ret":220,"rank":45.4},{"lr":"3e-05","ret":225,"rank":44.4},{"lr":"0.0003","ret":225,"rank":48.9},{"lr":"0.0003","ret":235.1,"rank":47.9},
      {"lr":"3e-05","ret":240,"rank":46.4},{"lr":"3e-05","ret":250.1,"rank":45.9},{"lr":"3e-05","ret":255.1,"rank":42.9},{"lr":"3e-05","ret":260.1,"rank":44.6},
      {"lr":"3e-05","ret":235.1,"rank":38.7},{"lr":"3e-05","ret":250.1,"rank":36.6},{"lr":"3e-05","ret":260.1,"rank":34},{"lr":"3e-05","ret":265.1,"rank":31.5},
      {"lr":"3e-05","ret":235.1,"rank":32.1},{"lr":"3e-05","ret":194.9,"rank":29.6},{"lr":"3e-05","ret":210,"rank":29},{"lr":"0.0003","ret":210,"rank":38.9},
      {"lr":"3e-05","ret":179.9,"rank":38.9},{"lr":"3e-05","ret":174.9,"rank":34.1},{"lr":"0.0003","ret":174.9,"rank":30.3},{"lr":"3e-05","ret":169.9,"rank":26.1},
      {"lr":"3e-05","ret":164.9,"rank":36.9},{"lr":"3e-05","ret":159.9,"rank":39.9},{"lr":"3e-05","ret":169.9,"rank":43.9},{"lr":"3e-05","ret":174.9,"rank":42.9},
      {"lr":"3e-05","ret":159.9,"rank":46.9},{"lr":"3e-05","ret":164.9,"rank":48.4},{"lr":"3e-05","ret":179.9,"rank":49.9},{"lr":"3e-05","ret":179.9,"rank":48.4},
      {"lr":"3e-05","ret":144.8,"rank":41.9},{"lr":"3e-05","ret":149.8,"rank":44.4},{"lr":"3e-05","ret":154.9,"rank":50.4},{"lr":"3e-05","ret":154.9,"rank":48.4},
      {"lr":"3e-05","ret":140,"rank":47.4},{"lr":"3e-05","ret":130,"rank":49.4},{"lr":"3e-05","ret":125,"rank":46.6},{"lr":"3e-05","ret":120,"rank":43.4},
      {"lr":"0.0003","ret":125,"rank":44.2},{"lr":"3e-05","ret":115,"rank":51.9},{"lr":"3e-05","ret":110,"rank":54.6},{"lr":"0.0003","ret":110,"rank":49.1},
      {"lr":"3e-05","ret":100,"rank":47.9},{"lr":"3e-05","ret":95,"rank":51.4},{"lr":"0.0003","ret":100,"rank":51.4},{"lr":"0.0003","ret":100,"rank":40.4},
      {"lr":"3e-05","ret":95,"rank":35.6},{"lr":"0.0003","ret":110,"rank":35.6},{"lr":"0.0003","ret":105,"rank":32.3},{"lr":"3e-05","ret":110,"rank":30.3},
      {"lr":"3e-05","ret":100,"rank":27.3},{"lr":"3e-05","ret":105,"rank":26.3},{"lr":"3e-05","ret":130,"rank":34.8},{"lr":"3e-05","ret":125,"rank":32.1},
      {"lr":"3e-05","ret":144.8,"rank":26.8},{"lr":"3e-05","ret":59.9,"rank":49.2},{"lr":"0.0003","ret":49.9,"rank":39.4},{"lr":"3e-05","ret":69.9,"rank":39.4},
      {"lr":"0.0003","ret":69.9,"rank":33.8},{"lr":"3e-05","ret":74.9,"rank":24.1},{"lr":"0.0003","ret":84.9,"rank":22.5},{"lr":"3e-05","ret":49.9,"rank":22.5},
      {"lr":"0.0003","ret":59.9,"rank":20.8},{"lr":"3e-05","ret":54.8,"rank":13.8},{"lr":"0.0003","ret":49.9,"rank":12.5},{"lr":"3e-05","ret":74.9,"rank":15.3},
      {"lr":"3e-05","ret":34.8,"rank":16.1},{"lr":"0.0003","ret":24.8,"rank":17.8},{"lr":"3e-05","ret":24.8,"rank":16.6},{"lr":"3e-05","ret":24.8,"rank":8.3},
      {"lr":"3e-05","ret":29.8,"rank":9.3},{"lr":"3e-05","ret":34.8,"rank":3.3},{"lr":"3e-05","ret":44.8,"rank":1.8},{"lr":"3e-05","ret":49.9,"rank":1.3},
      {"lr":"0.0003","ret":54.8,"rank":1.5},{"lr":"0.0003","ret":59.9,"rank":2.8},{"lr":"0.0003","ret":59.9,"rank":1.3},{"lr":"3e-05","ret":69.9,"rank":1.3},
      {"lr":"0.0003","ret":74.9,"rank":1.3},{"lr":"3e-05","ret":84.9,"rank":1.5},{"lr":"3e-05","ret":84.9,"rank":5.5},{"lr":"3e-05","ret":95,"rank":9.3},
      {"lr":"3e-05","ret":100,"rank":3.3},{"lr":"3e-05","ret":100,"rank":1.3},{"lr":"3e-05","ret":105,"rank":1.5},{"lr":"3e-05","ret":135.1,"rank":5.3},
      {"lr":"0.0003","ret":135.1,"rank":1.3},{"lr":"3e-05","ret":130,"rank":16.8},{"lr":"3e-05","ret":135.1,"rank":17.5},{"lr":"0.0003","ret":135.1,"rank":18.3},
      {"lr":"3e-05","ret":149.8,"rank":5.8},{"lr":"3e-05","ret":149.8,"rank":1.1},{"lr":"3e-05","ret":194.9,"rank":2.3},{"lr":"3e-05","ret":199.9,"rank":18.6},
      {"lr":"3e-05","ret":210,"rank":17.5},{"lr":"3e-05","ret":220,"rank":21.3},{"lr":"3e-05","ret":220,"rank":18.8},{"lr":"0.0003","ret":225,"rank":13.5},
      {"lr":"3e-05","ret":220,"rank":9.5},{"lr":"3e-05","ret":230,"rank":7.1},{"lr":"0.0003","ret":0,"rank":11.5},{"lr":"3e-05","ret":0,"rank":8},
      {"lr":"0.0003","ret":0,"rank":3.3},{"lr":"3e-05","ret":0,"rank":1.8},{"lr":"3e-05","ret":0,"rank":0.8},{"lr":"0.0003","ret":20,"rank":1.1},
      {"lr":"3e-05","ret":24.8,"rank":2.3},{"lr":"3e-05","ret":24.8,"rank":0.8}
    ],
    "gravitar_fit": [
      {"ret":0,"lo":40.0,"hi":57.4,"fit":48.7},{"ret":50,"lo":51.0,"hi":64.8,"fit":57.9},
      {"ret":100,"lo":61.7,"hi":72.3,"fit":67.0},{"ret":150,"lo":72.0,"hi":80.4,"fit":76.2},
      {"ret":200,"lo":81.2,"hi":89.4,"fit":85.3},{"ret":250,"lo":89.5,"hi":99.5,"fit":94.5},
      {"ret":300,"lo":97.2,"hi":110.2,"fit":103.7},{"ret":350,"lo":104.5,"hi":121.1,"fit":112.8},
      {"ret":400,"lo":111.7,"hi":132.3,"fit":122.0},{"ret":450,"lo":118.8,"hi":143.4,"fit":131.1},
      {"ret":500,"lo":125.9,"hi":154.7,"fit":140.3},{"ret":550,"lo":132.9,"hi":166.1,"fit":149.5},
      {"ret":605,"lo":140.8,"hi":178.4,"fit":159.6}
    ]
  },
  "hconcat": [
    {
      "width": 1288,
      "height": 887,
      "title": {"text": "Asterix, Kendall 𝝉:-0.06, Pearson 𝝆:0.02"},
      "layer": [
        {
          "data": {"name": "asterix"},
          "mark": {"type": "circle", "size": 215, "opacity": 0.8},
          "encoding": {
            "x": {
              "field": "ret", "type": "quantitative",
              "scale": {"domain": [-44, 3832], "nice": false, "zero": false},
              "axis": {
                "values": [0, 500, 1000, 1500, 2000, 2500, 3000, 3500],
                "format": "d",
                "labelExpr": "datum.value % 1000 === 0 ? datum.label : ''",
                "tickSize": {"condition": {"test": "datum.value % 1000 !== 0", "value": 3}, "value": 5},
                "gridOpacity": {"condition": {"test": "datum.value % 1000 !== 0", "value": 0}, "value": 1},
                "title": "Episode Returns (end of training)",
                "titleX": 1298, "titleY": 71, "titleBaseline": "alphabetic", "titleAlign": "center"
              }
            },
            "y": {
              "field": "rank", "type": "quantitative",
              "scale": {"domain": [-13.5, 313.6], "nice": false, "zero": false},
              "axis": {
                "values": [0, 50, 100, 150, 200, 250, 300],
                "format": "d",
                "labelExpr": "datum.value % 100 === 0 ? datum.label : ''",
                "tickSize": {"condition": {"test": "datum.value % 100 !== 0", "value": 3}, "value": 5},
                "gridOpacity": {"condition": {"test": "datum.value % 100 !== 0", "value": 0}, "value": 1},
                "title": "Effective Rank (end of training)",
                "titlePadding": 9
              }
            },
            "color": {
              "field": "lr", "type": "nominal",
              "scale": {"domain": ["3e-05", "0.0003"], "range": ["#db5f57", "#57d3db"]},
              "legend": {"title": "Learning Rates", "orient": "none", "legendX": 2702, "legendY": 384}
            }
          }
        },
        {
          "data": {"name": "asterix_fit"},
          "mark": {"type": "area", "color": "#000000", "opacity": 0.165},
          "encoding": {
            "x": {"field": "ret", "type": "quantitative"},
            "y": {"field": "lo", "type": "quantitative"},
            "y2": {"field": "hi"}
          }
        },
        {
          "data": {"name": "asterix_fit"},
          "mark": {"type": "line", "color": "#000000", "strokeWidth": 4},
          "encoding": {
            "x": {"field": "ret", "type": "quantitative"},
            "y": {"field": "fit", "type": "quantitative"}
          }
        }
      ]
    },
    {
      "width": 1289,
      "height": 887,
      "title": {"text": "Gravitar, Kendall 𝝉:0.28, Pearson 𝝆:0.35"},
      "layer": [
        {
          "data": {"name": "gravitar"},
          "mark": {"type": "circle", "size": 215, "opacity": 0.8},
          "encoding": {
            "x": {
              "field": "ret", "type": "quantitative",
              "scale": {"domain": [-30.5, 635.3], "nice": false, "zero": false},
              "axis": {
                "values": [0, 100, 200, 300, 400, 500, 600],
                "format": "d",
                "labelExpr": "datum.value % 200 === 0 ? datum.label : ''",
                "tickSize": {"condition": {"test": "datum.value % 200 !== 0", "value": 3}, "value": 5},
                "gridOpacity": {"condition": {"test": "datum.value % 200 !== 0", "value": 0}, "value": 1},
                "title": null
              }
            },
            "y": {
              "field": "rank", "type": "quantitative",
              "scale": {"domain": [-11, 255.8], "nice": false, "zero": false},
              "axis": {
                "values": [0, 25, 50, 75, 100, 125, 150, 175, 200, 225, 250],
                "format": "d",
                "labelExpr": "datum.value % 50 === 0 ? datum.label : ''",
                "tickSize": {"condition": {"test": "datum.value % 50 !== 0", "value": 3}, "value": 5},
                "gridOpacity": {"condition": {"test": "datum.value % 50 !== 0", "value": 0}, "value": 1},
                "title": null
              }
            },
            "color": {
              "field": "lr", "type": "nominal",
              "scale": {"domain": ["3e-05", "0.0003"], "range": ["#db5f57", "#57d3db"]},
              "legend": {"title": "Learning Rates", "orient": "none", "legendX": 2702, "legendY": 384}
            }
          }
        },
        {
          "data": {"name": "gravitar_fit"},
          "mark": {"type": "area", "color": "#000000", "opacity": 0.165},
          "encoding": {
            "x": {"field": "ret", "type": "quantitative"},
            "y": {"field": "lo", "type": "quantitative"},
            "y2": {"field": "hi"}
          }
        },
        {
          "data": {"name": "gravitar_fit"},
          "mark": {"type": "line", "color": "#000000", "strokeWidth": 4},
          "encoding": {
            "x": {"field": "ret", "type": "quantitative"},
            "y": {"field": "fit", "type": "quantitative"}
          }
        }
      ]
    }
  ],
  "resolve": {"scale": {"x": "independent", "y": "independent", "color": "shared"}}
}
